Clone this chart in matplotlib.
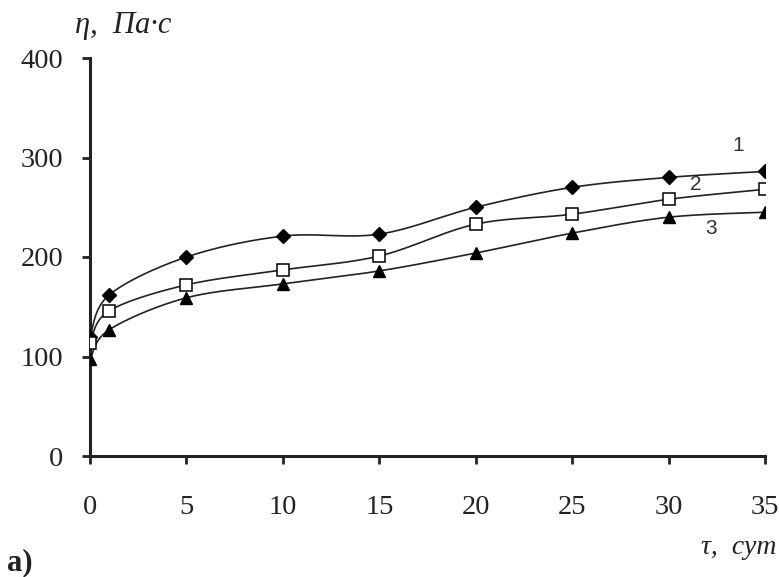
import numpy as np
import matplotlib
matplotlib.use("Agg")
import matplotlib.pyplot as plt

days = [0, 1, 5, 10, 15, 20, 25, 30, 35]
s1 = [120, 162, 200, 221, 223, 250, 270, 280, 286]
s2 = [114, 146, 172, 187, 201, 233, 243, 258, 268]
s3 = [97, 127, 159, 173, 186, 204, 224, 240, 245]
series_labels = ["1", "2", "3"]
xticks = [0, 5, 10, 15, 20, 25, 30, 35]
yticks = [0, 100, 200, 300, 400]


def catmull_rom(x, y, n=30):
    x = np.asarray(x, float)
    y = np.asarray(y, float)
    px = np.concatenate([[x[0]], x, [x[-1]]])
    py = np.concatenate([[y[0]], y, [y[-1]]])
    xs, ys = [], []
    t = np.linspace(0, 1, n)
    for i in range(1, len(px) - 2):
        p0x, p1x, p2x, p3x = px[i - 1], px[i], px[i + 1], px[i + 2]
        p0y, p1y, p2y, p3y = py[i - 1], py[i], py[i + 1], py[i + 2]
        c1x = p1x + (p2x - p0x) / 6
        c1y = p1y + (p2y - p0y) / 6
        c2x = p2x - (p3x - p1x) / 6
        c2y = p2y - (p3y - p1y) / 6
        bx = (1 - t) ** 3 * p1x + 3 * (1 - t) ** 2 * t * c1x + 3 * (1 - t) * t ** 2 * c2x + t ** 3 * p2x
        by = (1 - t) ** 3 * p1y + 3 * (1 - t) ** 2 * t * c1y + 3 * (1 - t) * t ** 2 * c2y + t ** 3 * p2y
        xs.extend(bx)
        ys.extend(by)
    return np.array(xs), np.array(ys)


fig = plt.figure(figsize=(7.79, 5.77), dpi=100)
ax = fig.add_axes([90 / 779, 1 - 456 / 577, 675 / 779, 398 / 577])

serif = "Liberation Serif"
styles = [
    dict(marker="D", markersize=7.5, mfc="black", mec="black"),
    dict(marker="s", markersize=8, mfc="white", mec="black", mew=1.1),
    dict(marker="^", markersize=9, mfc="black", mec="black"),
]
for ys, st in zip([s1, s2, s3], styles):
    cx, cy = catmull_rom(days, ys)
    ax.plot(cx, cy, color="#222222", lw=1.2, zorder=2)
    ax.plot(days, ys, linestyle="none", zorder=3, **st)

ax.set_xlim(0, 35)
ax.set_ylim(0, 400)
ax.set_xticks(xticks)
ax.set_yticks(yticks)
ax.set_xticklabels([str(v) for v in xticks], fontfamily=serif, fontsize=20.5)
ax.set_yticklabels([str(v) for v in yticks], fontfamily=serif, fontsize=20.5)
ax.tick_params(axis="x", direction="out", length=6, width=2, pad=22, colors="#222222")
ax.tick_params(axis="y", direction="out", length=6, width=2, pad=13, colors="#222222")
for s in ["top", "right"]:
    ax.spines[s].set_visible(False)
for s in ["left", "bottom"]:
    ax.spines[s].set_linewidth(2.2)
    ax.spines[s].set_color("#222222")
ax.spines["left"].set_capstyle("projecting")

# curve labels
ax.text(33.6, 312, series_labels[0], fontfamily="Liberation Sans", fontsize=15, ha="center", va="center", color="#333333")
ax.text(31.4, 273, series_labels[1], fontfamily="Liberation Sans", fontsize=15, ha="center", va="center", color="#333333")
ax.text(32.2, 229, series_labels[2], fontfamily="Liberation Sans", fontsize=15, ha="center", va="center", color="#333333")

fig.text(75 / 779, 1 - 26 / 577, "η,  Па·с", fontfamily=serif, style="italic", fontsize=22, ha="left", va="center", color="#222222")
fig.text(776 / 779, 1 - 548 / 577, "τ,  сут", fontfamily=serif, style="italic", fontsize=20, ha="right", va="center", color="#222222")
fig.text(7 / 779, 1 - 563 / 577, "а)", fontfamily=serif, fontweight="bold", fontsize=22, ha="left", va="center", color="#222222")

fig.savefig("out.png", dpi=100)
